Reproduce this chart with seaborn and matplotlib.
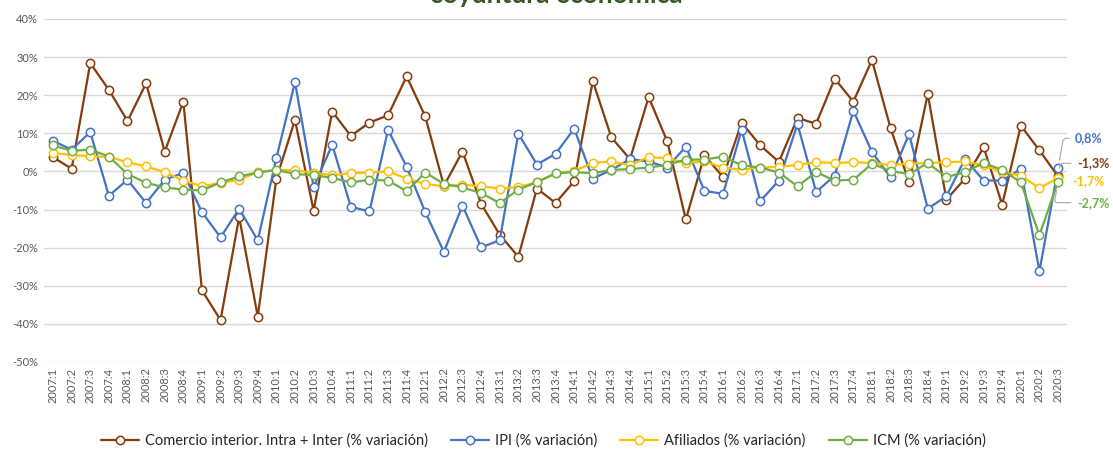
import pandas as pd
import matplotlib.pyplot as plt
import seaborn as sns
from matplotlib.ticker import FuncFormatter

# quarters 2007:1 .. 2020:3
quarters = [f"{y}:{q}" for y in range(2007, 2021) for q in range(1, 5)][:55]

comercio = [3.7, 0.7, 28.4, 21.4, 13.2, 23.1, 5.2, 18.3, -31.2, -39.0, -12.0, -38.1,
            -1.9, 13.5, -10.3, 15.7, 9.3, 12.8, 14.7, 24.9, 14.4, -3.8, 5.2, -8.5,
            -16.6, -22.4, -4.5, -8.3, -2.6, 23.7, 8.9, 3.2, 19.5, 7.9, -12.6, 4.2,
            -1.5, 12.8, 6.8, 2.5, 14.0, 12.5, 24.3, 18.3, 29.2, 11.3, -2.9, 20.3,
            -7.4, -1.9, 6.3, -8.7, 12.0, 5.5, -1.3]
ipi = [8.0, 5.7, 10.3, -6.4, -2.2, -8.3, -2.2, -0.4, -10.7, -17.3, -9.8, -18.1,
       3.5, 23.4, -4.1, 7.0, -9.3, -10.5, 10.9, 1.2, -10.7, -21.1, -9.0, -19.9,
       -18.1, 9.9, 1.8, 4.6, 11.2, -1.9, 0.4, 3.2, 2.6, 1.0, 6.5, -5.1,
       -5.9, 10.9, -7.8, -2.4, 12.4, -5.4, -1.1, 15.9, 5.1, -1.6, 9.8, -9.8,
       -6.5, 3.3, -2.4, -2.4, 0.6, -26.2, 0.8]
afiliados = [4.8, 4.3, 4.0, 3.8, 2.4, 1.3, -0.2, -2.4, -3.9, -3.0, -2.2, -0.2,
             0.4, 0.3, -0.4, -1.0, -0.5, -0.3, 0.0, -1.9, -3.3, -3.9, -3.5, -3.9,
             -4.5, -4.1, -2.9, -0.5, 0.1, 2.2, 2.6, 1.6, 3.8, 3.4, 2.2, 2.6,
             1.0, 0.4, 1.0, 1.2, 1.7, 2.4, 2.2, 2.4, 2.2, 1.7, 2.0, 2.2,
             2.4, 2.6, 1.6, -0.2, -1.1, -4.4, -1.7]
icm = [6.8, 5.4, 5.7, 3.9, -0.7, -3.0, -4.2, -4.8, -5.0, -2.9, -1.3, -0.3,
       0.4, -0.7, -1.0, -1.7, -2.9, -2.2, -2.4, -5.2, -0.3, -3.3, -4.2, -5.7,
       -8.3, -4.8, -2.8, -0.5, -0.2, -0.5, 0.4, 0.6, 1.0, 1.7, 3.1, 3.1,
       3.9, 1.6, 1.0, -0.3, -3.9, -0.2, -2.4, -2.2, 2.0, 0.1, -0.7, 2.2,
       -1.5, -0.2, 2.2, 0.4, -2.9, -16.7, -2.7]

series = [
    ("Comercio interior. Intra + Inter (% variación)", comercio, "#843C0C"),
    ("IPI (% variación)", ipi, "#4472C4"),
    ("Afiliados (% variación)", afiliados, "#FFC000"),
    ("ICM (% variación)", icm, "#70AD47"),
]

sns.set_style("white")
plt.rcParams["font.family"] = ["Lato", "DejaVu Sans"]

fig = plt.figure(figsize=(11.13, 4.5), dpi=100)
ax = fig.add_axes([0.0393, 0.1956, 0.9197, 0.7624])

for name, vals, col in series:
    df = pd.DataFrame({"Trimestre": quarters, "valor": vals})
    sns.lineplot(data=df, x="Trimestre", y="valor", ax=ax, color=col, lw=1.6,
                 marker="o", markersize=6, markerfacecolor="white",
                 markeredgecolor=col, markeredgewidth=1.1, label=name, sort=False)

ax.set_xlim(-0.5, len(quarters) - 0.5)
ax.set_ylim(-50, 40)
ax.set_yticks(range(-50, 41, 10))
ax.yaxis.set_major_formatter(FuncFormatter(lambda v, p: f"{v:.0f}%"))
ax.set_xticks(range(len(quarters)))
ax.set_xticklabels(quarters, rotation=90)
ax.tick_params(axis="both", labelsize=8, labelcolor="#595959", length=0, pad=4)
ax.grid(axis="y", color="#D9D9D9", lw=1)
ax.set_axisbelow(True)
for s in ax.spines.values():
    s.set_visible(False)
ax.set_xlabel("")
ax.set_ylabel("")

# end labels
ends = [("0,8%", ipi[-1], "#4472C4", (17, 30)),
        ("-1,3%", comercio[-1], "#843C0C", (19, 13)),
        ("-1,7%", afiliados[-1], "#FFC000", (14, -3)),
        ("-2,7%", icm[-1], "#70AD47", (19, -21))]
for txt, v, col, off in ends:
    ax.annotate(txt, xy=(len(quarters) - 1, v), xytext=off, textcoords="offset pixels",
                color=col, fontsize=9, fontweight="bold", va="center", ha="left",
                annotation_clip=False,
                arrowprops=dict(arrowstyle="-", color="#A6A6A6", lw=0.8,
                                shrinkA=2, shrinkB=6,
                                connectionstyle="angle,angleA=0,angleB=80,rad=3"))

leg = ax.legend(loc="center", bbox_to_anchor=(0.488, -0.23), ncol=4,
                frameon=False, fontsize=10.5, handlelength=2.6, columnspacing=1.6,
                handletextpad=0.4)

# title sits partly above the top edge, as in the source image
fig.text(0.5, 1 - 3 / 450, "coyuntura económica", ha="center", va="baseline",
         fontsize=19, fontweight="bold", color="#375623")

fig.savefig("out.png", dpi=100)
